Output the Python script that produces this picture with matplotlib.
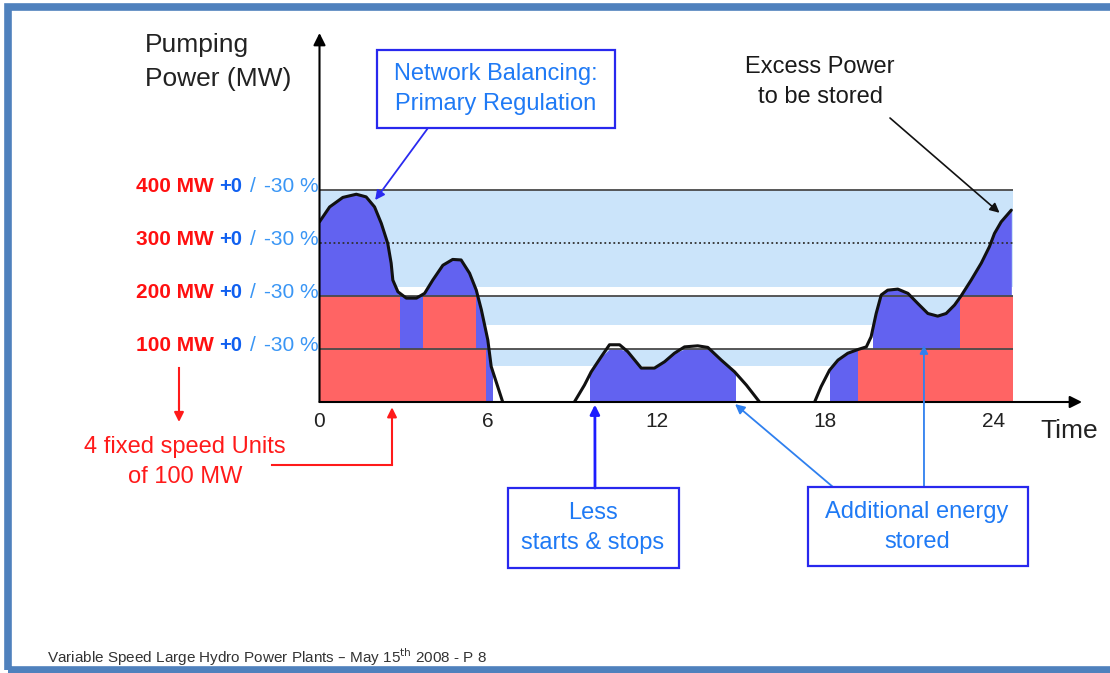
import numpy as np
import matplotlib.pyplot as plt
import matplotlib.transforms as mtransforms
from matplotlib.patches import Rectangle
from matplotlib.lines import Line2D

plt.rcParams['font.family'] = ['Liberation Sans', 'DejaVu Sans']

# pumping power curve, three pieces (hour, MW)
left_h = [0, 0.36, 0.83, 1.31, 1.66, 1.96, 2.20, 2.43, 2.55, 2.61, 2.79, 3.09, 3.45, 3.74,
          4.03, 4.39, 4.74, 5.04, 5.34, 5.58, 5.76, 5.99, 6.11, 6.52]
left_mw = [340, 368, 386, 392, 387, 368, 337, 299, 262, 230, 208, 196, 196, 205,
           230, 258, 269, 268, 243, 211, 174, 117, 67, 0]
mid_h = [9.07, 9.43, 9.67, 10.02, 10.32, 10.68, 10.97, 11.45, 11.92, 12.28, 12.63, 12.99,
         13.46, 13.82, 14.30, 14.77, 15.19, 15.66]
mid_mw = [0, 32, 57, 85, 108, 108, 95, 64, 64, 76, 92, 104, 106, 103, 79, 57, 32, 0]
right_h = [17.62, 17.85, 18.15, 18.45, 18.80, 19.16, 19.46, 19.63, 19.81, 19.99, 20.22, 20.58,
           20.94, 21.29, 21.65, 22.00, 22.30, 22.60, 22.83, 23.19, 23.55, 23.84, 24.02, 24.26, 24.62]
right_mw = [0, 29, 60, 79, 92, 99, 104, 123, 167, 202, 211, 213, 205, 186, 167, 162, 167,
            183, 200, 230, 262, 293, 318, 340, 362]

# regulation bands of the units (MW)
band_lo = [67, 145, 217]
band_hi = [100, 200, 400]

# fixed speed units running (start h, end h, bottom MW, top MW)
red_x0 = [0, 2.85, 3.68, 5.58, 19.16, 22.81]
red_x1 = [2.85, 3.68, 5.58, 5.93, 24.67, 24.67]
red_lo = [0, 0, 0, 0, 0, 100]
red_hi = [200, 100, 200, 100, 100, 200]

levels = [400, 300, 200, 100]
level_labels = ['400 MW', '300 MW', '200 MW', '100 MW']
xticks = [0, 6, 12, 18, 24]
x_end = 24.67

W, H = 1110, 673
LIGHT = '#cbe4fa'
BLUE = '#6262f0'
RED = '#ff6464'
BOXBLUE = '#2828ee'
TXTBLUE = '#1f7af5'

fig = plt.figure(figsize=(W / 100, H / 100), dpi=100)
ax = fig.add_axes([319.5 / W, (H - 402) / H, (1082 - 319.5) / W, (402 - 33) / H])
ax.set_xlim(0, (1082 - 319.5) / 28.1)
ax.set_ylim(0, (402 - 33) / 0.53)
for s in ax.spines.values():
    s.set_visible(False)
ax.set_yticks([])
ax.set_xticks(xticks)
ax.set_xticklabels([str(t) for t in xticks], fontsize=15, color='#222222')
ax.tick_params(axis='x', length=0, pad=7)


def fx(px):
    return px / W


def fy(py):
    return 1 - py / H


# light blue regulation bands
for lo, hi in zip(band_lo, band_hi):
    ax.fill_between([0, x_end], lo, hi, color=LIGHT, lw=0, zorder=1)

# variable speed energy under the curve
clips = [
    (left_h, left_mw, [(0, 0, 6.15, 1000)]),
    (mid_h, list(np.minimum(mid_mw, 100)), [(9.64, 0, 14.77 - 9.64, 1000)]),
    (right_h, right_mw, [(18.15, 0, 19.16 - 18.15, 1000), (19.69, 100, x_end - 19.69, 1000)]),
]
for hh, mw, rects in clips:
    for r in rects:
        coll = ax.fill_between(hh, 0, mw, color=BLUE, lw=0, zorder=2)
        coll.set_clip_path(Rectangle(r[:2], r[2], r[3], transform=ax.transData))

# fixed speed units
ax.bar(red_x0, np.array(red_hi) - np.array(red_lo), width=np.array(red_x1) - np.array(red_x0),
       bottom=red_lo, align='edge', color=RED, lw=0, zorder=3)

ax.hlines([100, 200, 400], 0, x_end, color='#4a4a4a', lw=1.3, zorder=4)
ax.hlines(300, 0, x_end, color='#303030', lw=1.3, linestyles=(0, (1, 1.5)), zorder=4)

for hh, mw in [(left_h, left_mw), (mid_h, mid_mw), (right_h, right_mw)]:
    ax.plot(hh, mw, color='#111111', lw=2.2, solid_joinstyle='round', solid_capstyle='round', zorder=5)

# axes arrows
arr = dict(arrowstyle='-|>', color='black', lw=1.5, mutation_scale=18, shrinkA=0, shrinkB=0)
ax.annotate('', xy=(1, 0), xytext=(0, 0), xycoords='axes fraction', arrowprops=arr, zorder=6)
ax.annotate('', xy=(0, 1), xytext=(0, 0), xycoords='axes fraction', arrowprops=arr, zorder=6)

# level labels on the left
trans = mtransforms.blended_transform_factory(fig.transFigure, ax.transData)
for lv, lab in zip(levels, level_labels):
    ax.text(fx(214), lv + 7, lab, transform=trans, ha='right', va='center', fontsize=15,
            fontweight='bold', color='#ff1010', clip_on=False)
    ax.text(fx(219), lv + 7, '+0', transform=trans, ha='left', va='center', fontsize=14.5,
            fontweight='bold', color='#1060f0', clip_on=False)
    ax.text(fx(253), lv + 7, '/', transform=trans, ha='center', va='center', fontsize=15,
            color='#3a96f5', clip_on=False)
    ax.text(fx(264), lv + 7, '-30 %', transform=trans, ha='left', va='center', fontsize=15,
            color='#3a96f5', clip_on=False)

fig.text(fx(145), fy(62), 'Pumping\nPower (MW)', ha='left', va='center', fontsize=19,
         color='#222222', linespacing=1.5)
fig.text(fx(1040), fy(431), 'Time', ha='left', va='center', fontsize=19, color='#222222')

# boxes
for (x0, y0, x1, y1) in [(377, 50, 615, 128), (508, 488, 679, 568), (808, 487, 1028, 566)]:
    fig.patches.append(Rectangle((fx(x0), fy(y1)), fx(x1) - fx(x0), fy(y0) - fy(y1),
                                 transform=fig.transFigure, fill=False, ec=BOXBLUE, lw=1.6))
fig.text(fx(496), fy(89), 'Network Balancing:\nPrimary Regulation', ha='center', va='center',
         fontsize=17, color=TXTBLUE, linespacing=1.5)
fig.text(fx(593), fy(528), 'Less\nstarts & stops', ha='center', va='center',
         fontsize=17, color=TXTBLUE, linespacing=1.5)
fig.text(fx(917), fy(527), 'Additional energy\nstored', ha='center', va='center',
         fontsize=17, color=TXTBLUE, linespacing=1.5)
fig.text(fx(820), fy(82), 'Excess Power\nto be stored', ha='center', va='center',
         fontsize=17, color='#1a1a1a', linespacing=1.5)
fig.text(fx(185), fy(462), '4 fixed speed Units\nof 100 MW', ha='center', va='center',
         fontsize=17, color='#ff1a1a', linespacing=1.5)


def pointer(xy, start, color, lw, ms=14):
    ax.annotate('', xy=xy, xytext=(start[0], H - start[1]), textcoords='figure pixels',
                arrowprops=dict(arrowstyle='-|>', color=color, lw=lw, mutation_scale=ms,
                                shrinkA=0, shrinkB=0), annotation_clip=False, zorder=7)


pointer((1.98, 381), (428, 128), '#2a2af0', 1.3)
pointer((24.2, 357), (890, 118), '#111111', 1.2)
pointer((9.8, -5), (595, 488), '#1c1cff', 2.0)
pointer((14.79, -4), (833, 487), '#2f80ef', 1.3)
pointer((21.51, 107), (924, 487), '#2f80ef', 1.3, ms=12)
pointer((2.58, -10), (392, 465), '#ff1a1a', 1.5)
fig.add_artist(Line2D([fx(272), fx(392)], [fy(465), fy(465)], transform=fig.transFigure,
                      color='#ff1a1a', lw=1.5))
fig.add_artist(Line2D([fx(179), fx(179)], [fy(368), fy(408)], transform=fig.transFigure,
                      color='#ff1a1a', lw=1.5))
ax.annotate('', xy=(fx(179), fy(422)), xytext=(fx(179), fy(400)), xycoords='figure fraction',
            arrowprops=dict(arrowstyle='-|>', color='#ff1a1a', lw=1.5, mutation_scale=14,
                            shrinkA=0, shrinkB=0), annotation_clip=False)

fig.text(fx(47), fy(657), r'Variable Speed Large Hydro Power Plants – May 15$^{\rm th}$ 2008 - P 8',
         ha='left', va='center', fontsize=11, color='#333333')

# slide frame
fig.patches.append(Rectangle((fx(7.5), fy(670)), 1.2, fy(6.5) - fy(670), transform=fig.transFigure,
                             fill=False, ec='#4f81bd', lw=5.5))

fig.savefig('out.png', dpi=100)
